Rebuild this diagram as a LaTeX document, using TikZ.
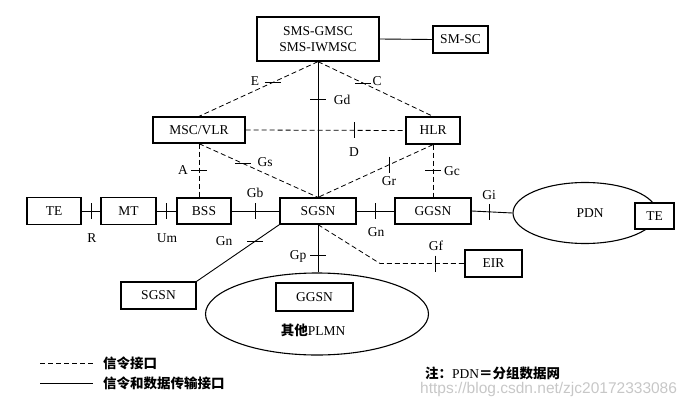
\documentclass[tikz,border=0pt]{standalone}
\usepackage{fontspec}
\setmainfont{Liberation Serif}
\newfontfamily\cjk{Noto Sans CJK SC}
\newfontfamily\wmfont{Liberation Sans}
\usetikzlibrary{shapes.geometric}
\begin{document}
\begin{tikzpicture}[x=1pt,y=-1pt,
  box/.style={draw, line width=1.3pt, inner sep=0pt, fill=white, font=\fontsize{13.5}{16}\selectfont},
  oval/.style={draw, ellipse, line width=1.1pt, inner sep=0pt},
  lbl/.style={inner sep=0pt, font=\fontsize{13.5}{15}\selectfont},
  cjklbl/.style={inner sep=0pt, font=\cjk\bfseries\fontsize{13.5}{15}\selectfont},
  sig/.style={dash pattern=on 5pt off 3pt, line width=0.8pt},
  dat/.style={line width=0.9pt},
  htick/.pic={\draw[line width=0.8pt] (-8,0) -- (8,0);},
  vtick/.pic={\draw[line width=0.8pt] (0,-8) -- (0,8);},
]
\useasboundingbox (0,0) rectangle (692,406);

% ellipses (drawn first so boxes cover them)
\node[oval, minimum width=223pt, minimum height=82pt] (plmn) at (317,314) {};
\node[oval, minimum width=144pt, minimum height=61pt] (pdn) at (585,213) {};

% boxes
\node[box, minimum width=122pt, minimum height=44pt, align=center] (smsc) at (318,39) {SMS-GMSC\\SMS-IWMSC};
\node[box, minimum width=55pt, minimum height=27pt] (smsc2) at (460.5,39.5) {SM-SC};
\node[box, minimum width=92pt, minimum height=26pt] (msc) at (199,130) {MSC/VLR};
\node[box, minimum width=54pt, minimum height=27pt] (hlr) at (433,130.5) {HLR};
\node[box, minimum width=54pt, minimum height=27pt] (te1) at (54,211) {TE};
\node[box, minimum width=55pt, minimum height=27pt] (mt) at (128.5,211) {MT};
\node[box, minimum width=54pt, minimum height=26pt] (bss) at (204,211) {BSS};
\node[box, minimum width=76pt, minimum height=26pt] (sgsn) at (318,211) {SGSN};
\node[box, minimum width=76pt, minimum height=26pt] (ggsn) at (433,211) {GGSN};
\node[box, minimum width=57pt, minimum height=27pt] (eir) at (493.5,263.5) {EIR};
\node[box, minimum width=75pt, minimum height=27pt] (sgsn2) at (158.5,295.5) {SGSN};
\node[box, minimum width=77pt, minimum height=28pt] (ggsn2) at (314.5,297) {GGSN};
\node[box, minimum width=39pt, minimum height=26pt] (te2) at (654.5,216) {TE};

\node[lbl] (pdnlbl) at (590,213) {PDN};
\node[lbl] (plmnlbl) at (313,330) {{\cjk\bfseries 其他}PLMN};

% data + signalling connectors
\draw[dat] (smsc.east) -- (smsc2.west);
\draw[dat] (smsc.south) -- coordinate[pos=0.28] (tGd) (sgsn.north);
\draw[sig] (smsc.south) -- coordinate[pos=0.38] (tE) (msc.north);
\draw[sig] (smsc.south) -- coordinate[pos=0.39] (tC) (hlr.north);
\draw[sig] (msc.east) -- coordinate[pos=0.68] (tD) (hlr.west);
\draw[sig] (msc.south) -- coordinate[pos=0.37] (tGs) (sgsn.north);
\draw[sig] (msc.south) -- coordinate[pos=0.49] (tA) (msc.south |- bss.north);
\draw[sig] (hlr.south) -- coordinate[pos=0.38] (tGr) (sgsn.north);
\draw[sig] (hlr.south) -- coordinate[pos=0.49] (tGc) (ggsn.north);
\draw[dat] (te1.east) -- coordinate[pos=0.5] (tR) (mt.west);
\draw[dat] (mt.east) -- coordinate[pos=0.5] (tUm) (bss.west);
\draw[dat] (bss.east) -- coordinate[pos=0.49] (tGb) (sgsn.west);
\draw[dat] (sgsn.east) -- coordinate[pos=0.51] (tGn) (ggsn.west);
\draw[dat] (ggsn.east) -- coordinate[pos=0.43] (tGi) (pdn.west);
\draw[dat] (sgsn.south west) -- coordinate[pos=0.29] (tGn2) (sgsn2.north east);
\draw[dat] (sgsn.south) -- coordinate[pos=0.65] (tGp) (sgsn.south |- plmn.north);
\coordinate (bend) at (380,263.5);
\draw[sig] (sgsn.south) -- (bend) -- coordinate[pos=0.66] (tGf) (eir.west);

% interface ticks
\pic at (tE) {htick};
\pic at (tC) {htick};
\pic at (tGd) {htick};
\pic at (tGs) {htick};
\pic at (tA) {htick};
\pic at (tGc) {htick};
\pic at (tGn2) {htick};
\pic at (tGp) {htick};
\pic at (tD) {vtick};
\pic at (tGr) {vtick};
\pic at (tR) {vtick};
\pic at (tUm) {vtick};
\pic at (tGb) {vtick};
\pic at (tGn) {vtick};
\pic at (tGi) {vtick};
\pic at (tGf) {vtick};

% interface labels
\node[lbl] (lE) at (255,81) {E};
\node[lbl] (lC) at (377,81) {C};
\node[lbl] (lGd) at (342,100) {Gd};
\node[lbl] (lD) at (354,152) {D};
\node[lbl] (lGs) at (265,162) {Gs};
\node[lbl] (lA) at (183,170) {A};
\node[lbl] (lGr) at (389,181) {Gr};
\node[lbl] (lGc) at (452,171) {Gc};
\node[lbl] (lGb) at (255,193) {Gb};
\node[lbl] (lR) at (92,238) {R};
\node[lbl] (lUm) at (167,238) {Um};
\node[lbl] (lGn) at (376,232) {Gn};
\node[lbl] (lGn2) at (224,241) {Gn};
\node[lbl] (lGi) at (489,195) {Gi};
\node[lbl] (lGp) at (298,256) {Gp};
\node[lbl] (lGf) at (436,246) {Gf};

% legend
\coordinate (la1) at (40,363);
\coordinate (lb1) at (93,363);
\coordinate (la2) at (40,383);
\coordinate (lb2) at (93,383);
\draw[sig] (la1) -- (lb1);
\draw[dat] (la2) -- (lb2);
\node[cjklbl, anchor=west] (leg1) at (103,363) {信令接口};
\node[cjklbl, anchor=west] (leg2) at (103,383) {信令和数据传输接口};
\node[lbl, anchor=west] (note) at (425,373) {{\cjk\bfseries 注：}PDN{\cjk\bfseries ＝分组数据网}};
\node[inner sep=0pt, anchor=west, text=black!22, font=\wmfont\fontsize{15.5}{17}\selectfont] (wm) at (420,389) {https://blog.csdn.net/zjc20172333086};
\end{tikzpicture}
\end{document}
